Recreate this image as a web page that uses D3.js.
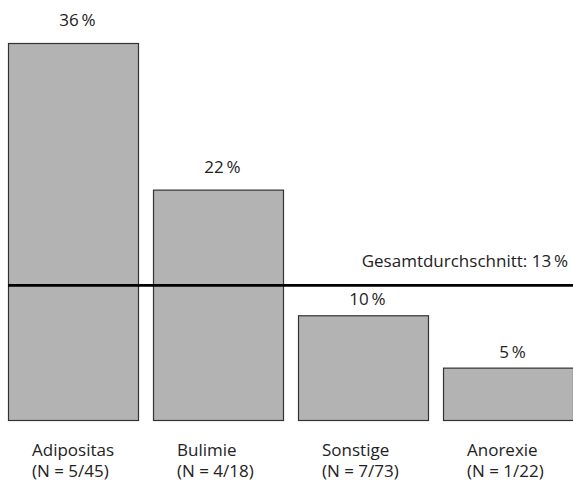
<!DOCTYPE html>
<html>
<head>
<meta charset="utf-8">
<script src="https://cdn.jsdelivr.net/npm/d3@7"></script>
<style>
  body { margin: 0; background: #fff; }
  text { font-family: "Open Sans", sans-serif; fill: #222; }
</style>
</head>
<body>
<script>
// Data.
var categories = ["Adipositas", "Bulimie", "Sonstige", "Anorexie"];
var counts = ["(N = 5/45)", "(N = 4/18)", "(N = 7/73)", "(N = 1/22)"];
var percents = [36, 22, 10, 5];
var average = 13;
var averageLabel = "Gesamtdurchschnitt: 13\u2009%";

var width = 573,
    height = 485,
    baseline = 420,
    plotTop = 43;

var svg = d3.select("body")
            .append("svg")
            .attr("width", width)
            .attr("height", height);

var xScale = d3.scaleBand()
               .domain(categories)
               .range([8, 574])
               .paddingInner(0.0966)
               .paddingOuter(0);

var yScale = d3.scaleLinear()
               .domain([0, d3.max(percents)])
               .range([baseline, plotTop]);

var rows = categories.map(function(c, i) {
    return {name: c, n: counts[i], value: percents[i]};
});

// Bars
svg.selectAll("rect.bar")
   .data(rows)
   .enter()
   .append("rect")
   .attr("class", "bar")
   .attr("x", function(d) {return xScale(d.name) + 0.5;})
   .attr("y", function(d) {return yScale(d.value) + 0.5;})
   .attr("width", xScale.bandwidth() - 1)
   .attr("height", function(d) {return baseline - yScale(d.value);})
   .attr("fill", "#b3b3b3")
   .attr("stroke", "#333")
   .attr("stroke-width", 1.2);

// Value labels above bars (closer for bars below the average line)
svg.selectAll("text.value")
   .data(rows)
   .enter()
   .append("text")
   .attr("class", "value")
   .attr("x", function(d) {return xScale(d.name) + xScale.bandwidth() / 2 + 4;})
   .attr("y", function(d) {return yScale(d.value) - (d.value > average ? 17 : 10);})
   .attr("text-anchor", "middle")
   .style("font-size", "17px")
   .text(function(d) {return d.value + "\u2009%";});

// Average line
svg.append("line")
   .attr("x1", xScale(categories[0]))
   .attr("x2", width)
   .attr("y1", yScale(average) + 1.5)
   .attr("y2", yScale(average) + 1.5)
   .attr("stroke", "#000")
   .attr("stroke-width", 2.6);

svg.append("text")
   .attr("x", 568)
   .attr("y", yScale(average) - 17)
   .attr("text-anchor", "end")
   .style("font-size", "17px")
   .text(averageLabel);

// Category labels, two lines each
var labels = svg.selectAll("text.cat")
   .data(rows)
   .enter()
   .append("text")
   .attr("class", "cat")
   .attr("x", function(d) {return xScale(d.name) + 24;})
   .attr("y", 456)
   .style("font-size", "17px");

labels.append("tspan")
      .text(function(d) {return d.name;});
labels.append("tspan")
      .attr("x", function(d) {return xScale(d.name) + 24;})
      .attr("dy", 21)
      .text(function(d) {return d.n;});
</script>
</body>
</html>
